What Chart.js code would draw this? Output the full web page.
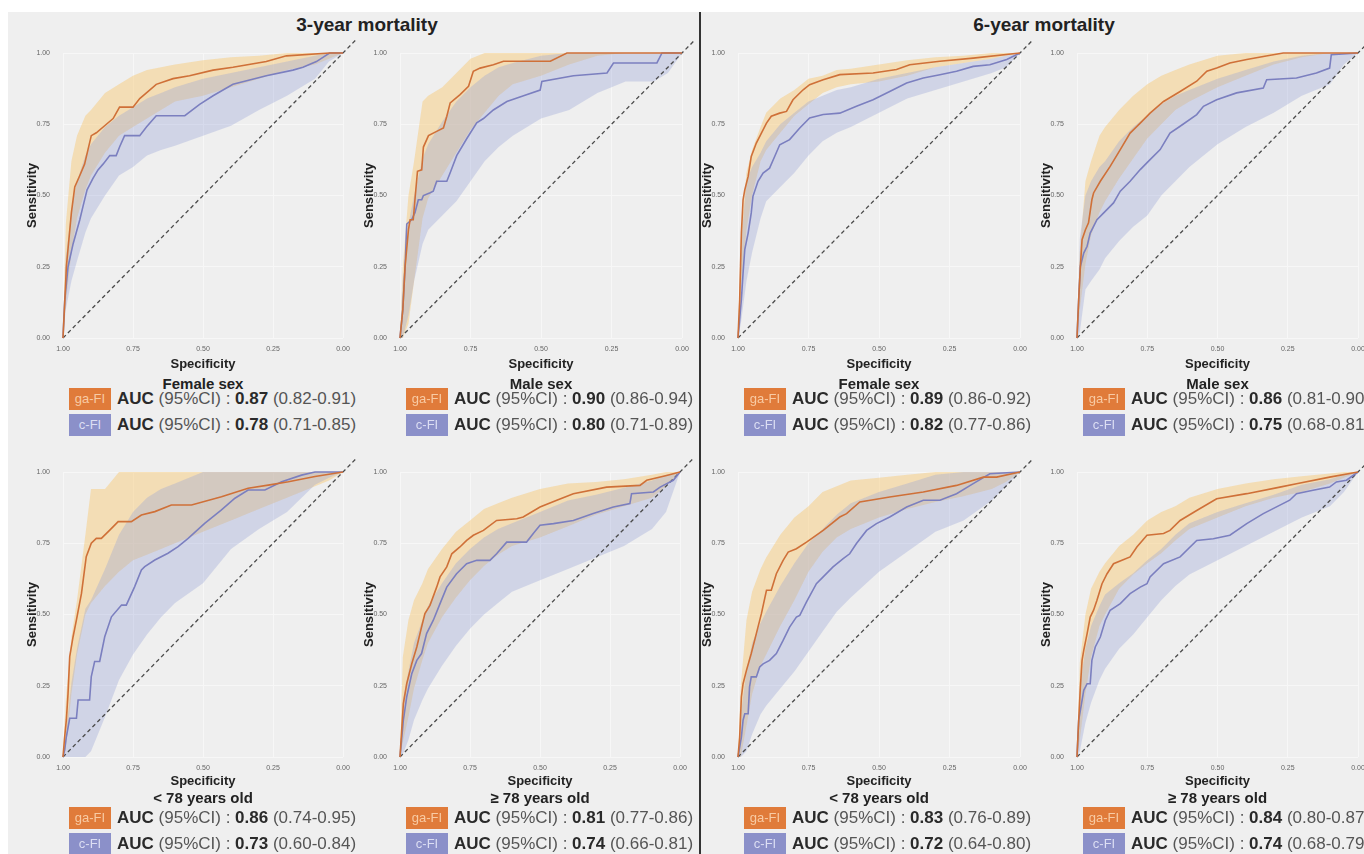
<!DOCTYPE html>
<html>
<head>
<meta charset="utf-8">
<script src="https://cdn.jsdelivr.net/npm/chart.js@4.4.0/dist/chart.umd.min.js"></script>
<style>
  body { margin:0; width:1364px; height:854px; overflow:hidden; background:#fff; position:relative; font-family:"Liberation Sans", Arial, sans-serif; }
  #bg { position:absolute; left:8px; top:12px; right:0; bottom:0; background:#efefef; }
  .title { position:absolute; top:25px; font-weight:bold; font-size:19px; color:#222; transform:translate(-50%,-50%); white-space:nowrap; }
  #divider { position:absolute; left:699px; top:12px; width:2px; height:842px; background:#333; }
  canvas { position:absolute; }
  .sub { position:absolute; font-weight:bold; font-size:15px; color:#222; transform:translate(-50%,-50%); white-space:nowrap; }
  .row { position:absolute; height:22px; display:flex; align-items:center; white-space:nowrap; font-size:17px; color:#555; }
  .box { width:42px; height:22px; line-height:22px; text-align:center; font-size:13px; margin-right:6px; }
  .row b { color:#2a2a2a; }
</style>
</head>
<body>
<div id="bg"></div>
<div class="title" style="left:367px">3-year mortality</div>
<div class="title" style="left:1044px">6-year mortality</div>
<div id="divider"></div>
<div id="wrap"></div>
<script>
// specificity grid used for the confidence bands
const specGrid = [1, 0.99, 0.97, 0.95, 0.92, 0.9, 0.85, 0.8, 0.75, 0.7, 0.65, 0.6, 0.5, 0.4, 0.3, 0.2, 0.1, 0.05, 0];

// 3-year, female sex
const f3Ga = [[1,0],[0.994,0.12],[0.988,0.25],[0.97,0.44],[0.958,0.53],[0.94,0.57],[0.923,0.61],[0.899,0.71],[0.881,0.72],[0.845,0.75],[0.821,0.77],[0.798,0.81],[0.75,0.81],[0.726,0.84],[0.702,0.86],[0.667,0.89],[0.607,0.91],[0.548,0.92],[0.464,0.94],[0.393,0.95],[0.274,0.97],[0.202,0.99],[0.048,1],[0,1]];
const f3C = [[1,0],[0.994,0.13],[0.982,0.25],[0.964,0.33],[0.94,0.415],[0.929,0.46],[0.914,0.52],[0.893,0.56],[0.875,0.59],[0.857,0.61],[0.833,0.64],[0.81,0.64],[0.798,0.67],[0.78,0.71],[0.726,0.71],[0.702,0.74],[0.667,0.78],[0.565,0.78],[0.512,0.82],[0.464,0.85],[0.393,0.89],[0.274,0.92],[0.179,0.94],[0.143,0.95],[0.095,0.97],[0.048,1],[0,1]];
const f3GaHi = [0, .40, .62, .71, .78, .80, .86, .89, .92, .94, .95, .96, .975, .985, .99, 1, 1, 1, 1];
const f3GaLo = [0, .12, .30, .42, .52, .57, .65, .71, .74, .77, .80, .83, .85, .88, .91, .94, .96, .98, 1];
const f3CHi = [0, .28, .45, .55, .64, .68, .74, .78, .81, .84, .86, .88, .91, .93, .95, .97, .99, 1, 1];
const f3CLo = [0, .10, .20, .27, .37, .42, .50, .57, .60, .64, .66, .675, .71, .745, .80, .85, .91, .97, 1];

// 3-year, male sex
const m3Ga = [[1,0],[0.99,0.1],[0.982,0.25],[0.97,0.38],[0.964,0.415],[0.953,0.415],[0.947,0.485],[0.938,0.585],[0.923,0.59],[0.917,0.67],[0.899,0.71],[0.87,0.725],[0.846,0.737],[0.834,0.778],[0.822,0.825],[0.787,0.854],[0.757,0.883],[0.74,0.936],[0.716,0.947],[0.669,0.959],[0.633,0.971],[0.467,0.971],[0.408,1],[0,1]];
const m3C = [[1,0],[0.99,0.1],[0.982,0.25],[0.976,0.4],[0.959,0.415],[0.947,0.44],[0.935,0.485],[0.923,0.485],[0.917,0.5],[0.893,0.51],[0.882,0.515],[0.87,0.55],[0.834,0.55],[0.822,0.58],[0.799,0.64],[0.763,0.7],[0.728,0.755],[0.704,0.77],[0.669,0.8],[0.621,0.83],[0.562,0.85],[0.503,0.87],[0.497,0.9],[0.385,0.92],[0.266,0.93],[0.243,0.965],[0.089,0.965],[0.071,1],[0,1]];
const m3GaHi = [0, .25, .50, .62, .83, .85, .88, .93, .98, 1, 1, 1, 1, 1, 1, 1, 1, 1, 1];
const m3GaLo = [0, 0, .05, .20, .42, .49, .57, .65, .73, .79, .85, .89, .92, .96, .99, 1, 1, 1, 1];
const m3CHi = [0, .20, .40, .50, .63, .68, .76, .83, .88, .92, .95, .965, .99, 1, 1, 1, 1, 1, 1];
const m3CLo = [0, 0, .08, .20, .33, .38, .43, .48, .55, .62, .67, .71, .77, .80, .86, .90, .90, .93, 1];

// 6-year, female sex
const f6Ga = [[1,0],[0.994,0.135],[0.988,0.368],[0.982,0.485],[0.976,0.52],[0.964,0.567],[0.953,0.637],[0.935,0.684],[0.917,0.719],[0.899,0.754],[0.882,0.778],[0.852,0.789],[0.828,0.795],[0.805,0.836],[0.769,0.871],[0.746,0.889],[0.698,0.906],[0.639,0.924],[0.521,0.93],[0.438,0.942],[0.391,0.959],[0.284,0.971],[0.166,0.982],[0,1]];
const f6C = [[1,0],[0.988,0.135],[0.982,0.228],[0.976,0.31],[0.964,0.368],[0.953,0.439],[0.947,0.497],[0.929,0.55],[0.911,0.579],[0.888,0.596],[0.87,0.637],[0.852,0.678],[0.817,0.696],[0.781,0.737],[0.746,0.772],[0.698,0.784],[0.639,0.789],[0.58,0.813],[0.521,0.836],[0.462,0.865],[0.402,0.895],[0.343,0.912],[0.284,0.924],[0.225,0.936],[0.166,0.953],[0.107,0.959],[0.047,0.977],[0,1]];
const f6GaHi = [0, .35, .58, .66, .74, .79, .84, .87, .91, .92, .94, .945, .96, .975, .985, .99, 1, 1, 1];
const f6GaLo = [0, .15, .38, .50, .62, .66, .72, .78, .82, .86, .88, .89, .90, .92, .95, .965, .98, .99, 1];
const f6CHi = [0, .32, .55, .60, .65, .69, .75, .79, .83, .85, .87, .88, .91, .93, .95, .965, .98, .99, 1];
const f6CLo = [0, .05, .20, .30, .42, .48, .53, .58, .64, .69, .72, .74, .79, .84, .87, .90, .93, .95, 1];

// 6-year, male sex
const m6Ga = [[1,0],[0.994,0.135],[0.988,0.251],[0.982,0.345],[0.97,0.38],[0.959,0.404],[0.947,0.485],[0.941,0.509],[0.917,0.55],[0.882,0.602],[0.846,0.661],[0.811,0.719],[0.775,0.754],[0.74,0.789],[0.692,0.83],[0.633,0.865],[0.574,0.901],[0.538,0.936],[0.503,0.947],[0.456,0.965],[0.396,0.977],[0.337,0.988],[0.266,1],[0,1]];
const m6C = [[1,0],[0.994,0.135],[0.988,0.251],[0.976,0.298],[0.964,0.322],[0.953,0.368],[0.941,0.392],[0.929,0.415],[0.905,0.439],[0.87,0.474],[0.846,0.515],[0.811,0.55],[0.775,0.591],[0.74,0.626],[0.704,0.661],[0.669,0.719],[0.633,0.743],[0.574,0.784],[0.55,0.813],[0.503,0.836],[0.432,0.86],[0.337,0.877],[0.325,0.906],[0.219,0.912],[0.148,0.93],[0.101,0.947],[0.095,0.994],[0,1]];
const m6GaHi = [0, .30, .55, .62, .71, .74, .80, .85, .89, .92, .94, .96, .99, 1, 1, 1, 1, 1, 1];
const m6GaLo = [0, .10, .26, .36, .44, .48, .56, .63, .70, .75, .80, .83, .88, .92, .96, .985, 1, 1, 1];
const m6CHi = [0, .35, .50, .55, .60, .62, .69, .74, .78, .82, .85, .87, .91, .94, .97, .99, 1, 1, 1];
const m6CLo = [0, .02, .17, .20, .24, .28, .34, .39, .43, .50, .55, .60, .68, .74, .79, .85, .89, .96, 1];

// 3-year, < 78 years old
const y3Ga = [[1,0],[0.994,0.071],[0.988,0.13],[0.982,0.223],[0.976,0.352],[0.964,0.422],[0.952,0.481],[0.934,0.574],[0.917,0.703],[0.899,0.75],[0.881,0.767],[0.863,0.767],[0.833,0.796],[0.803,0.826],[0.756,0.826],[0.72,0.849],[0.672,0.861],[0.613,0.884],[0.541,0.884],[0.434,0.913],[0.339,0.943],[0.267,0.954],[0.195,0.966],[0.1,0.984],[0,1]];
const y3C = [[1,0],[0.994,0.025],[0.988,0.071],[0.976,0.136],[0.952,0.136],[0.946,0.2],[0.905,0.2],[0.899,0.282],[0.887,0.335],[0.869,0.335],[0.851,0.422],[0.827,0.492],[0.791,0.533],[0.774,0.533],[0.744,0.598],[0.72,0.656],[0.708,0.668],[0.672,0.691],[0.625,0.715],[0.589,0.738],[0.553,0.767],[0.494,0.82],[0.434,0.867],[0.386,0.908],[0.339,0.937],[0.279,0.937],[0.219,0.966],[0.148,0.989],[0.1,1],[0,1]];
const y3GaHi = [0, .20, .42, .55, .78, .94, .94, 1, 1, 1, 1, 1, 1, 1, 1, 1, 1, 1, 1];
const y3GaLo = [0, .03, .22, .36, .50, .54, .60, .65, .69, .71, .73, .75, .79, .83, .87, .91, .95, .97, 1];
const y3CHi = [0, .08, .26, .38, .52, .55, .66, .78, .86, .91, .94, .96, 1, 1, 1, 1, 1, 1, 1];
const y3CLo = [0, 0, 0, 0, 0, .02, .14, .27, .36, .43, .49, .54, .61, .73, .80, .86, .955, .98, 1];

// 3-year, >= 78 years old
const o3Ga = [[1,0],[0.988,0.187],[0.976,0.257],[0.958,0.327],[0.94,0.386],[0.923,0.456],[0.911,0.503],[0.893,0.532],[0.869,0.596],[0.857,0.632],[0.833,0.667],[0.815,0.713],[0.786,0.737],[0.762,0.76],[0.738,0.778],[0.702,0.795],[0.655,0.83],[0.583,0.836],[0.56,0.842],[0.5,0.877],[0.44,0.901],[0.381,0.924],[0.262,0.947],[0.143,0.953],[0.119,0.971],[0.048,0.988],[0,1]];
const o3C = [[1,0],[0.988,0.129],[0.976,0.211],[0.958,0.292],[0.94,0.339],[0.923,0.363],[0.905,0.433],[0.881,0.48],[0.857,0.538],[0.833,0.596],[0.798,0.643],[0.762,0.678],[0.726,0.69],[0.679,0.69],[0.655,0.713],[0.619,0.754],[0.548,0.754],[0.524,0.784],[0.5,0.813],[0.452,0.819],[0.381,0.83],[0.31,0.854],[0.238,0.877],[0.179,0.889],[0.173,0.924],[0.095,0.93],[0.071,0.947],[0.024,0.971],[0,1]];
const o3GaHi = [0, .35, .48, .55, .61, .66, .73, .79, .83, .87, .89, .91, .94, .96, .965, .975, .99, 1, 1];
const o3GaLo = [0, .05, .14, .24, .34, .40, .49, .56, .62, .67, .71, .74, .77, .81, .85, .88, .91, .95, 1];
const o3CHi = [0, .20, .30, .40, .48, .53, .61, .68, .73, .77, .80, .82, .86, .90, .92, .945, .97, .99, 1];
const o3CLo = [0, .01, .06, .13, .20, .24, .32, .39, .45, .50, .54, .58, .62, .66, .70, .74, .80, .86, 1];

// 6-year, < 78 years old
const y6Ga = [[1,0],[0.994,0.07],[0.988,0.211],[0.982,0.257],[0.97,0.304],[0.953,0.363],[0.935,0.433],[0.917,0.503],[0.899,0.585],[0.882,0.585],[0.864,0.643],[0.84,0.69],[0.822,0.719],[0.793,0.731],[0.757,0.754],[0.698,0.795],[0.639,0.842],[0.615,0.854],[0.568,0.895],[0.462,0.912],[0.343,0.93],[0.225,0.953],[0.13,0.982],[0.083,0.982],[0,1]];
const y6C = [[1,0],[0.994,0.035],[0.988,0.07],[0.982,0.129],[0.976,0.152],[0.964,0.152],[0.959,0.246],[0.953,0.281],[0.935,0.281],[0.923,0.316],[0.911,0.327],[0.888,0.339],[0.864,0.363],[0.84,0.409],[0.817,0.456],[0.793,0.491],[0.781,0.497],[0.757,0.544],[0.722,0.608],[0.698,0.632],[0.663,0.667],[0.627,0.696],[0.604,0.713],[0.58,0.749],[0.544,0.795],[0.509,0.819],[0.462,0.842],[0.402,0.877],[0.343,0.901],[0.284,0.901],[0.225,0.924],[0.166,0.959],[0.107,0.994],[0,1]];
const y6GaHi = [0, .25, .48, .58, .66, .70, .78, .84, .88, .93, .95, .97, .98, .99, 1, 1, 1, 1, 1];
const y6GaLo = [0, 0, .11, .22, .32, .36, .46, .55, .65, .72, .77, .80, .84, .87, .895, .915, .94, .965, 1];
const y6CHi = [0, .15, .30, .40, .47, .51, .60, .68, .75, .80, .85, .89, .93, .96, .99, 1, 1, 1, 1];
const y6CLo = [0, 0, .02, .08, .15, .18, .24, .30, .37, .44, .51, .56, .65, .72, .79, .83, .90, .95, 1];

// 6-year, >= 78 years old
const o6Ga = [[1,0],[0.994,0.129],[0.988,0.246],[0.982,0.339],[0.976,0.374],[0.964,0.433],[0.953,0.491],[0.941,0.515],[0.929,0.55],[0.911,0.608],[0.893,0.643],[0.87,0.678],[0.84,0.69],[0.811,0.702],[0.787,0.737],[0.751,0.778],[0.692,0.784],[0.669,0.795],[0.633,0.83],[0.574,0.865],[0.503,0.906],[0.396,0.924],[0.278,0.947],[0.219,0.959],[0.101,0.982],[0,1]];
const o6C = [[1,0],[0.994,0.129],[0.988,0.164],[0.976,0.234],[0.964,0.257],[0.953,0.257],[0.947,0.339],[0.935,0.386],[0.917,0.421],[0.899,0.48],[0.882,0.515],[0.846,0.538],[0.811,0.573],[0.775,0.596],[0.751,0.608],[0.74,0.632],[0.692,0.678],[0.633,0.702],[0.574,0.76],[0.515,0.766],[0.456,0.778],[0.396,0.819],[0.337,0.854],[0.243,0.901],[0.219,0.924],[0.16,0.936],[0.101,0.947],[0.077,0.965],[0.041,0.971],[0,1]];
const o6GaHi = [0, .33, .50, .59, .65, .68, .74, .78, .83, .86, .88, .91, .94, .96, .975, .985, .995, 1, 1];
const o6GaLo = [0, .06, .22, .35, .46, .50, .59, .64, .68, .715, .76, .80, .84, .88, .91, .93, .96, .98, 1];
const o6CHi = [0, .24, .38, .46, .53, .57, .61, .645, .69, .73, .78, .82, .86, .89, .92, .955, .975, .99, 1];
const o6CLo = [0, .02, .12, .19, .27, .31, .38, .43, .49, .55, .60, .64, .69, .74, .79, .84, .88, .93, 1];

const subtitles = ['Female sex', 'Male sex', 'Female sex', 'Male sex', '< 78 years old', '\u2265 78 years old', '< 78 years old', '\u2265 78 years old'];
const gaAuc = ['0.87', '0.90', '0.89', '0.86', '0.86', '0.81', '0.83', '0.84'];
const gaCi = ['0.82-0.91', '0.86-0.94', '0.86-0.92', '0.81-0.90', '0.74-0.95', '0.77-0.86', '0.76-0.89', '0.80-0.87'];
const cAuc = ['0.78', '0.80', '0.82', '0.75', '0.73', '0.74', '0.72', '0.74'];
const cCi = ['0.71-0.85', '0.71-0.89', '0.77-0.86', '0.68-0.81', '0.60-0.84', '0.66-0.81', '0.64-0.80', '0.68-0.79'];

const gaCurves = [f3Ga, m3Ga, f6Ga, m6Ga, y3Ga, o3Ga, y6Ga, o6Ga];
const cCurves = [f3C, m3C, f6C, m6C, y3C, o3C, y6C, o6C];
const gaHis = [f3GaHi, m3GaHi, f6GaHi, m6GaHi, y3GaHi, o3GaHi, y6GaHi, o6GaHi];
const gaLos = [f3GaLo, m3GaLo, f6GaLo, m6GaLo, y3GaLo, o3GaLo, y6GaLo, o6GaLo];
const cHis = [f3CHi, m3CHi, f6CHi, m6CHi, y3CHi, o3CHi, y6CHi, o6CHi];
const cLos = [f3CLo, m3CLo, f6CLo, m6CLo, y3CLo, o3CLo, y6CLo, o6CLo];

// plot box of each panel: left, top, width (page px)
const boxes = [[63,53,280],[400,53,282],[738,53,282],[1077,53,281],[63,472,280],[400,472,280],[738,472,282],[1077,472,281]];
const plotH = 285;

const GA_LINE = '#cf7038', C_LINE = '#7b7fbf';
const GA_BAND = 'rgba(248,196,100,0.42)', C_BAND = 'rgba(150,160,215,0.34)';
Chart.defaults.font.family = '"Liberation Sans", Arial, sans-serif';

const toXY = pairs => pairs.map(([s, v]) => ({ x: s, y: v }));
const onGrid = vals => vals.map((v, i) => ({ x: specGrid[i], y: v }));
const wrap = document.getElementById('wrap');

boxes.forEach(([L, T, W], i) => {
    const top = i < 4;
    const xh = top ? 34 : 32;
    const canvas = document.createElement('canvas');
    const cw = 43 + W + 16, ch = 20 + plotH + xh;
    canvas.width = cw; canvas.height = ch;
    canvas.style.left = (L - 43) + 'px';
    canvas.style.top = (T - 20) + 'px';
    canvas.style.width = cw + 'px'; canvas.style.height = ch + 'px';
    wrap.appendChild(canvas);

    const line = (data, color) => ({ data: toXY(data), borderColor: color, borderWidth: 1.6, pointRadius: 0, tension: 0, fill: false, clip: 3 });
    new Chart(canvas.getContext('2d'), {
        type: 'line',
        data: {
            datasets: [
                line(gaCurves[i], GA_LINE),
                line(cCurves[i], C_LINE),
                { data: [{ x: 1, y: 0 }, { x: -0.045, y: 1.045 }], borderColor: '#4a4a4a', borderWidth: 1.3, borderDash: [4, 3], pointRadius: 0, fill: false, clip: false },
                { data: onGrid(cHis[i]), borderWidth: 0, pointRadius: 0, fill: false },
                { data: onGrid(cLos[i]), borderWidth: 0, pointRadius: 0, fill: 3, backgroundColor: C_BAND },
                { data: onGrid(gaHis[i]), borderWidth: 0, pointRadius: 0, fill: false },
                { data: onGrid(gaLos[i]), borderWidth: 0, pointRadius: 0, fill: 5, backgroundColor: GA_BAND }
            ]
        },
        options: {
            responsive: false,
            animation: false,
            devicePixelRatio: 1,
            layout: { padding: { top: 20, right: 16, left: 0, bottom: 0 } },
            plugins: { legend: { display: false }, tooltip: { enabled: false } },
            scales: {
                x: {
                    type: 'linear', reverse: true, min: 0, max: 1,
                    afterFit: s => { s.height = xh; s.paddingLeft = 0; s.paddingRight = 0; },
                    ticks: { stepSize: 0.25, callback: v => v.toFixed(2), font: { size: 7 }, color: '#666', padding: 7, maxRotation: 0, autoSkip: false },
                    grid: { color: '#f7f7f7', drawTicks: false },
                    border: { display: false },
                    title: { display: true, text: 'Specificity', font: { size: 13, weight: 'bold' }, color: '#222', padding: 0 }
                },
                y: {
                    type: 'linear', min: 0, max: 1,
                    afterFit: s => { s.width = 43; s.paddingTop = 0; s.paddingBottom = 0; },
                    ticks: { stepSize: 0.25, callback: v => v.toFixed(2), font: { size: 7 }, color: '#666', padding: 13 },
                    grid: { color: '#f7f7f7', drawTicks: false },
                    border: { display: false },
                    title: { display: true, text: 'Sensitivity', font: { size: 13, weight: 'bold' }, color: '#222', padding: { top: 5, bottom: 0 } }
                }
            }
        }
    });

    // subtitle and AUC legend rows
    const sub = document.createElement('div');
    sub.className = 'sub';
    sub.textContent = subtitles[i];
    sub.style.left = (L + W / 2) + 'px';
    sub.style.top = (top ? 383 : 797) + 'px';
    wrap.appendChild(sub);

    const rows = [
        ['ga-FI', '#e07b3a', '#f8cba4', gaAuc[i], gaCi[i]],
        ['c-FI', '#8b90c9', '#dcdef3', cAuc[i], cCi[i]]
    ];
    rows.forEach(([name, bg, fg, auc, ci], r) => {
        const row = document.createElement('div');
        row.className = 'row';
        row.style.left = (L + 6) + 'px';
        row.style.top = ((top ? 399 : 818) + r * 26 - 11) + 'px';
        row.innerHTML = '<span class="box" style="background:' + bg + ';color:' + fg + '">' + name + '</span>' +
            '<b>AUC</b>&nbsp;(95%CI) :&nbsp;<b>' + auc + '</b>&nbsp;(' + ci + ')';
        wrap.appendChild(row);
    });
});
</script>
</body>
</html>
